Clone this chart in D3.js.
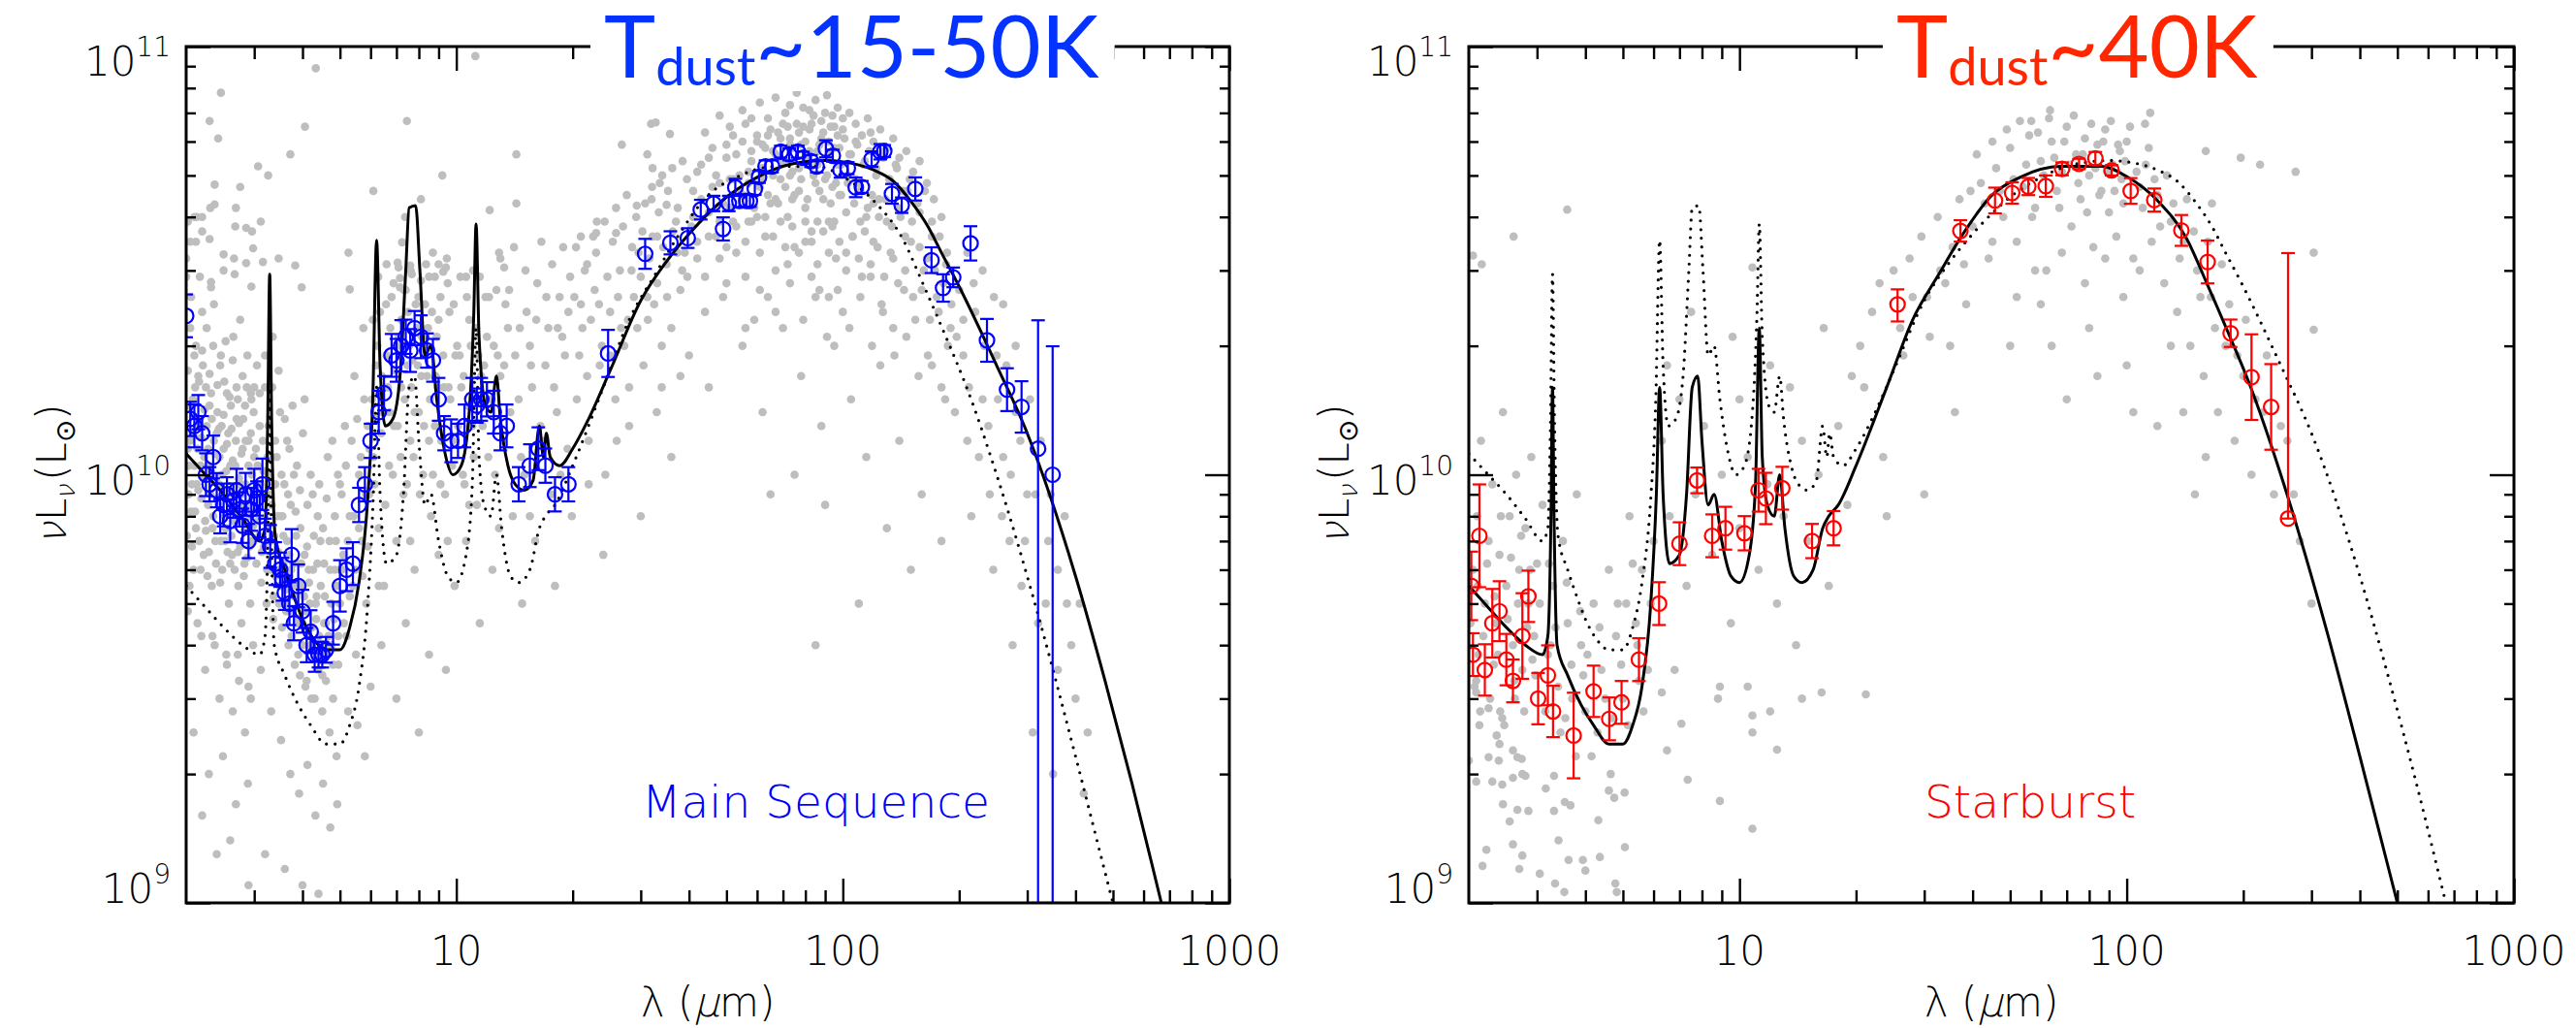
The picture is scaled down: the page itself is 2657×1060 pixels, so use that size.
<!DOCTYPE html>
<html><head><meta charset="utf-8">
<script src="https://cdn.jsdelivr.net/npm/d3@7"></script>
<style>
body{margin:0;background:#fff;}
text{font-family:"DejaVu Sans",sans-serif;font-weight:200;}
</style></head><body>
<script>
// luminosities in units of 1e10 Lsun, wavelengths in micron
var msModel=[[2.0,1.12],[2.2,1.02],[2.5,0.9],[2.8,0.79],[3.1,0.7],[3.2,0.75],[3.25,1.3],[3.29,2.94],[3.33,1.3],[3.4,0.72],[3.6,0.6],[3.8,0.52],[4.0,0.46],[4.3,0.41],[4.6,0.39],[5.0,0.39],[5.3,0.44],[5.6,0.56],[5.9,0.88],[6.08,1.5],[6.22,3.53],[6.35,1.8],[6.55,1.3],[6.85,1.35],[7.15,1.7],[7.4,3.0],[7.55,4.2],[7.85,4.25],[8.05,3.0],[8.3,1.9],[8.6,2.0],[8.9,1.5],[9.3,1.15],[9.8,1.0],[10.3,1.05],[10.8,1.4],[11.1,2.4],[11.25,3.85],[11.45,2.1],[11.9,1.45],[12.3,1.4],[12.7,1.7],[13.0,1.35],[13.6,1.05],[14.2,0.95],[15.0,0.92],[15.8,0.97],[16.4,1.3],[16.8,1.1],[17.1,1.25],[17.5,1.1],[18.5,1.05],[20,1.15],[22,1.35],[25,1.75],[30,2.55],[35,3.15],[40,3.65],[50,4.45],[60,4.95],[70,5.25],[80,5.38],[90,5.42],[100,5.38],[120,5.15],[135,4.85],[150,4.35],[166,3.8],[180,3.3],[200,2.75],[250,1.8],[300,1.25],[400,0.58],[477,0.33],[560,0.19],[667,0.1],[750,0.065]];
var sbModel=[[2.0,0.55],[2.2,0.5],[2.5,0.44],[2.8,0.4],[3.1,0.38],[3.2,0.42],[3.26,0.8],[3.29,1.6],[3.32,0.8],[3.38,0.4],[3.6,0.34],[3.9,0.29],[4.2,0.26],[4.6,0.235],[5.0,0.235],[5.3,0.26],[5.6,0.32],[5.9,0.5],[6.1,0.9],[6.22,1.6],[6.35,0.9],[6.6,0.62],[7.0,0.65],[7.3,0.9],[7.55,1.6],[7.8,1.7],[8.0,1.2],[8.3,0.85],[8.6,0.9],[9.0,0.7],[9.5,0.58],[10.0,0.56],[10.6,0.65],[11.0,0.95],[11.25,2.2],[11.45,1.1],[11.8,0.85],[12.3,0.8],[12.7,1.0],[13.1,0.75],[13.8,0.58],[14.5,0.56],[15.5,0.6],[16.4,0.75],[17.0,0.8],[18,0.85],[20,1.05],[24,1.6],[28,2.3],[32.8,2.95],[37.4,3.6],[44.9,4.5],[53,4.95],[67.6,5.25],[86,5.25],[100,4.97],[120,4.37],[143,3.55],[161,2.8],[186,2.07],[208,1.62],[250,1.0],[329,0.43],[400,0.22],[500,0.1],[560,0.068]];

// stacked photometry: [lambda, L, err down (dex), err up (dex)]
var msPts=[[2.0,2.35,0.05,0.05],[2.05,1.35,0.04,0.04],[2.1,1.3,0.05,0.05],[2.15,1.4,0.04,0.04],[2.2,1.25,0.04,0.04],[2.25,1.0,0.05,0.05],[2.3,0.95,0.04,0.04],[2.35,1.1,0.05,0.05],[2.4,0.92,0.04,0.04],[2.45,0.8,0.04,0.04],[2.5,0.85,0.05,0.05],[2.55,0.9,0.04,0.04],[2.6,0.78,0.05,0.05],[2.65,0.87,0.04,0.04],[2.7,0.92,0.05,0.05],[2.75,0.83,0.04,0.04],[2.8,0.76,0.04,0.04],[2.85,0.9,0.05,0.05],[2.9,0.7,0.04,0.04],[2.95,0.83,0.05,0.05],[3.0,0.92,0.05,0.05],[3.05,0.88,0.04,0.04],[3.1,0.8,0.05,0.05],[3.15,0.95,0.06,0.06],[3.2,0.72,0.04,0.04],[3.3,0.68,0.05,0.05],[3.4,0.62,0.05,0.05],[3.5,0.6,0.04,0.04],[3.55,0.57,0.05,0.05],[3.6,0.53,0.04,0.04],[3.7,0.5,0.05,0.05],[3.75,0.65,0.06,0.06],[3.8,0.45,0.04,0.04],[3.9,0.55,0.05,0.05],[4.0,0.48,0.05,0.05],[4.1,0.4,0.04,0.04],[4.2,0.43,0.05,0.05],[4.3,0.38,0.04,0.04],[4.4,0.38,0.03,0.03],[4.5,0.38,0.03,0.03],[4.6,0.39,0.03,0.03],[4.8,0.45,0.05,0.05],[5.0,0.55,0.06,0.06],[5.2,0.6,0.05,0.05],[5.4,0.62,0.05,0.05],[5.6,0.85,0.04,0.04],[5.8,0.95,0.04,0.04],[6.0,1.2,0.04,0.04],[6.3,1.4,0.05,0.05],[6.5,1.55,0.04,0.04],[6.8,1.9,0.05,0.05],[7.0,1.85,0.05,0.05],[7.2,2.0,0.06,0.06],[7.4,2.1,0.04,0.04],[7.6,1.95,0.05,0.05],[7.8,2.2,0.04,0.04],[8.1,2.1,0.05,0.05],[8.4,1.95,0.04,0.04],[8.7,1.85,0.05,0.05],[9.0,1.5,0.05,0.05],[9.3,1.25,0.04,0.04],[9.7,1.2,0.05,0.05],[10.1,1.2,0.04,0.04],[10.5,1.3,0.05,0.05],[11.0,1.5,0.05,0.05],[11.3,1.45,0.04,0.04],[11.6,1.5,0.05,0.05],[12.0,1.5,0.04,0.04],[12.5,1.4,0.05,0.05],[13.0,1.25,0.04,0.04],[13.5,1.3,0.05,0.05],[14.5,0.95,0.04,0.04],[15.5,1.05,0.05,0.05],[16.3,1.15,0.05,0.05],[17,1.05,0.04,0.04],[18,0.9,0.04,0.04],[19.5,0.95,0.04,0.04],
[24.7,1.92,0.055,0.055],[30.8,3.28,0.035,0.035],[35.8,3.48,0.027,0.027],[39.7,3.57,0.023,0.023],[42.9,4.16,0.023,0.023],[46.3,4.3,0.018,0.018],[49.0,3.75,0.027,0.027],[50.7,4.3,0.018,0.018],[52.7,4.69,0.02,0.02],[54.0,4.36,0.014,0.014],[56.3,4.36,0.014,0.014],[57.5,4.36,0.014,0.014],[59.2,4.65,0.014,0.014],[60.7,4.96,0.014,0.014],[63.1,5.25,0.014,0.014],[65.6,5.25,0.014,0.014],[69.1,5.68,0.014,0.014],[72.7,5.6,0.014,0.014],[76.5,5.68,0.014,0.014],[78.9,5.5,0.014,0.014],[82.7,5.4,0.014,0.014],[85.6,5.25,0.014,0.014],[90.4,5.77,0.02,0.02],[94.2,5.56,0.014,0.014],[98.6,5.15,0.018,0.018],[103,5.2,0.014,0.014],[108,4.69,0.023,0.023],[112,4.7,0.014,0.014],[118.7,5.46,0.018,0.018],[125,5.68,0.018,0.018],[128,5.7,0.014,0.014],[134,4.53,0.023,0.023],[142,4.26,0.018,0.018],[154,4.65,0.027,0.027],[169.6,3.17,0.03,0.03],[181.7,2.73,0.032,0.032],[193,2.89,0.023,0.023],[214,3.47,0.04,0.04],[236,2.06,0.05,0.05],[266,1.58,0.05,0.05],[290,1.44,0.06,0.06],[320,1.15,2,0.3],[349,1.0,2,0.3]];
var sbPts=[[2.03,0.55,0.08,0.08],[2.05,0.38,0.05,0.05],[2.13,0.72,0.12,0.12],[2.2,0.35,0.06,0.06],[2.3,0.45,0.08,0.08],[2.4,0.48,0.07,0.07],[2.5,0.37,0.06,0.06],[2.6,0.33,0.05,0.05],[2.75,0.42,0.1,0.1],[2.85,0.52,0.06,0.06],[3.02,0.30,0.06,0.06],[3.2,0.34,0.07,0.07],[3.3,0.28,0.06,0.06],[3.73,0.246,0.1,0.1],[4.2,0.312,0.06,0.06],[4.61,0.269,0.05,0.05],[4.96,0.294,0.05,0.05],[5.5,0.37,0.05,0.05],[6.2,0.5,0.05,0.05],[7.0,0.69,0.05,0.05],[7.77,0.97,0.03,0.03],[8.5,0.72,0.05,0.05],[9.2,0.75,0.05,0.05],[10.3,0.73,0.04,0.04],[11.2,0.92,0.05,0.05],[11.7,0.88,0.06,0.06],[12.9,0.93,0.05,0.05],[15.4,0.7,0.04,0.04],[17.5,0.75,0.04,0.04],
[25.6,2.5,0.04,0.035],[37.2,3.71,0.025,0.025],[45.7,4.37,0.03,0.03],[50.6,4.55,0.025,0.025],[55.7,4.71,0.02,0.02],[61.8,4.72,0.025,0.025],[68.1,5.18,0.015,0.015],[75.3,5.32,0.012,0.012],[83,5.48,0.015,0.015],[91.4,5.14,0.012,0.012],[102.4,4.6,0.03,0.03],[117.8,4.38,0.027,0.027],[138.4,3.72,0.036,0.036],[161.8,3.14,0.05,0.05],[185.5,2.14,0.032,0.032],[210,1.69,0.1,0.1],[236,1.44,0.1,0.1],[261,0.79,0,0.62]];

// individual galaxies (grey)
var msGray=[[4.33,8.9],[2.46,7.8],[2.3,6.7],[2.42,6.1],[4.06,6.5],[7.45,6.7],[3.72,5.6],[3.07,5.25],[3.26,5.0],[9.2,5.0],[2.37,4.76],[2.76,4.7],[6.1,4.6],[11.2,9.5],[14.3,5.6],[14.3,4.3],[12.2,4.15],[8.1,4.4],[26.8,5.9],[31.2,5.6],[31.9,6.6],[32.8,6.65],[35.7,6.25],[32.2,5.2],[33.6,4.8],[29.3,4.25],[32,4.4],[35,4.27],[23.1,3.9],[21,3.6],[23,3.67],[25.9,3.67],[21.8,3.1],
[2.13,4.0],[2.1,4.0],[2.2,4.0],[2.02,3.9],[2.2,3.7],[2.05,3.5],[2.12,3.5],[2.3,3.55],[2.31,4.2],[2.37,4.28],[2.69,4.2],[3.12,3.9],[2.86,3.77],[2.96,3.7],[2.68,3.8],[2.98,3.38],[2.5,3.27],[2.66,3.2],[2.86,3.12],[3.16,3.14],[3.47,3.2],[3.83,3.08],[2.5,3.0],[2.67,2.94],[2.0,3.2],[2.0,2.9],[2.17,2.9],[2.32,2.82],[2.32,2.74],[2.95,2.75],[3.98,2.74],[5.26,3.3],[5.3,2.71],[6.6,3.1],[7.05,3.13],[7.09,3.05],[7.15,2.88],[7.15,2.74],[7.24,3.49],[7.37,4.0],[7.4,2.7],[7.6,3.08],[7.67,2.94],[8.1,2.84],[8.5,2.9],[8.7,3.3],[9.0,3.1],[9.25,2.98],[9.4,3.05],[9.5,2.8],[10.6,2.9],[13,3.2],[13.3,3.05],[12.7,2.7],
[2.05,2.2],[2.1,1.9],[2.15,1.7],[2.2,2.4],[2.25,1.6],[2.3,1.45],[2.35,2.0],[2.4,1.25],[2.45,1.8],[2.5,1.15],[2.55,1.55],[2.6,1.05],[2.65,2.1],[2.7,1.35],[2.75,0.95],[2.8,1.7],[2.85,1.2],[2.9,0.85],[2.95,1.5],[3.0,1.1],[2.02,1.15],[2.07,0.95],[2.12,0.75],[2.18,1.05],[2.22,0.65],[2.28,0.85],[2.33,0.55],[2.38,0.7],[2.43,0.95],[2.48,0.6],[2.53,0.75],[2.58,0.5],[2.63,0.65],[2.68,0.85],[2.73,0.55],[2.78,0.45],[2.83,0.62],[2.88,0.75],[2.93,0.5],[2.98,0.4],[2.04,0.55],[2.14,0.45],[2.24,0.35],[2.34,0.42],[2.44,0.3],[2.54,0.38],[2.64,0.28],[2.74,0.33],[2.84,0.25],[2.94,0.3],[2.09,0.25],[2.29,0.2],[2.49,0.22],[2.69,0.17],[2.89,0.19],
[3.05,1.8],[3.1,1.3],[3.15,0.9],[3.2,1.6],[3.25,1.1],[3.3,0.7],[3.35,2.1],[3.4,0.95],[3.45,0.6],[3.5,1.4],[3.55,0.8],[3.6,0.5],[3.65,1.2],[3.7,0.65],[3.75,0.42],[3.8,1.0],[3.85,0.55],[3.9,0.38],[3.95,0.75],[4.0,0.45],[4.05,1.5],[4.1,0.33],[4.15,0.6],[4.2,0.4],[4.25,0.9],[4.3,0.3],[4.35,0.52],[4.4,0.35],[4.45,0.7],[4.5,0.28],[4.55,0.45],[4.6,0.33],[4.65,1.1],[4.7,0.25],[4.75,0.4],[4.8,0.3],[4.85,0.6],[4.9,0.22],[4.95,0.36],[5.0,0.5],[3.12,0.35],[3.32,0.28],[3.52,0.24],[3.72,0.2],[3.92,0.18],[4.12,0.21],[4.32,0.16],[4.52,0.19],[4.72,0.15],[4.92,0.17],[3.6,0.12],[4.0,0.11],[4.4,0.105],[3.2,0.13],[2.6,0.14],[2.4,0.13],[2.2,0.16],[2.9,0.11],
[5.05,0.9],[5.1,0.65],[5.15,1.3],[5.2,0.42],[5.3,0.8],[5.4,0.55],[5.45,1.7],[5.5,0.38],[5.6,1.0],[5.7,0.7],[5.75,2.2],[5.85,0.5],[5.9,1.3],[5.95,0.9],[6.0,0.32],[5.25,0.28],[5.55,0.26],[5.8,0.22],
[6.1,1.1],[6.2,1.8],[6.3,0.75],[6.35,2.4],[6.45,1.4],[6.5,0.55],[6.6,1.9],[6.7,1.05],[6.8,2.6],[6.9,1.3],[7.0,0.7],[7.1,2.1],[7.2,1.6],[7.3,0.9],[7.5,2.4],[7.6,1.2],[7.7,1.85],[7.8,0.6],[7.9,2.2],[8.0,1.4],[8.2,1.0],[8.3,2.5],[8.4,1.7],[8.6,0.8],[8.8,1.3],[8.9,2.1],[9.1,0.95],[9.3,1.6],[9.5,0.7],[9.6,2.4],[9.8,1.2],[9.9,0.55],[6.4,0.4],[7.4,0.45],[8.5,0.38],[9.4,0.35],[7.0,0.3],[8.0,0.25],
[10.2,1.9],[10.4,1.0],[10.6,0.7],[10.8,2.3],[11.0,1.3],[11.3,0.85],[11.6,1.7],[11.9,2.6],[12.1,1.1],[12.4,0.6],[12.8,1.9],[13.2,1.2],[13.6,2.2],[14.0,0.8],[14.5,1.5],[15.0,1.0],[15.5,2.0],[16.0,0.7],[16.5,1.3],[17.0,1.8],[17.6,0.9],[18.2,1.4],[18.8,2.1],[19.4,1.15],[19.9,0.8],[11.5,0.45],[14.8,0.5],[18,0.55],
[20.5,1.5],[21.2,2.2],[22,1.2],[22.8,2.7],[23.5,1.8],[24.3,1.0],[25,2.4],[25.8,1.5],[26.5,3.0],[27.2,2.0],[28,1.3],[28.8,2.6],[29.6,3.3],[30.5,1.8],[31.3,2.3],[32.2,3.6],[33.1,2.8],[34,1.6],[35,3.1],[36,2.2],[37,3.9],[38,2.7],[39,3.3],[40,1.9],[24,0.65],[30,0.8],[36,1.1],
[41,4.6],[42,3.5],[43,5.3],[44,2.9],[45,4.1],[46,5.8],[47,3.6],[48,4.8],[49,2.6],[50,5.5],[51,4.2],[52,6.2],[53,3.3],[54,5.0],[55,4.5],[56,6.6],[57,3.9],[58,5.4],[59,2.3],[60,6.0],[61,4.7],[62,5.2],[63,3.6],[64,6.8],[65,4.3],[66,5.7],[67,3.0],[68,6.3],[69,4.9],[70,5.4],[71,7.0],[72,4.0],[73,6.1],[74,5.1],[75,3.4],[76,6.6],[77,4.6],[78,5.9],[79,7.2],[80,4.2],[81,5.5],[82,6.4],[83,3.7],[84,6.9],[85,4.8],[86,5.3],[87,2.7],[88,6.1],[89,4.4],[90,7.0],[91,5.0],[92,3.9],[93,6.5],[94,4.7],[95,5.8],[96,3.2],[97,6.2],[98,4.5],[99,5.3],[100,6.8],[102,4.1],[104,5.6],[106,3.6],[108,6.0],[110,4.8],[112,2.9],[114,5.4],[116,4.2],[118,6.3],[120,3.5],[122,5.0],[124,4.4],[126,2.5],[128,5.7],[130,3.9],[132,4.9],[135,3.2],[138,5.2],[141,4.0],[144,2.7],[147,4.6],[150,3.5],[154,2.3],[158,4.1],[162,3.0],[166,1.9],[170,3.6],[175,2.6],[180,1.6],[185,3.1],[190,2.2],[195,1.4],[200,2.7],
[45,1.6],[55,2.0],[62,1.4],[70,2.2],[78,1.7],[88,1.3],[95,2.0],[105,1.5],[115,1.1],[125,1.8],[140,1.2],[160,0.9],[130,0.75],[150,0.6],[110,0.5],[90,0.85],[75,1.0],[65,0.9],[180,0.7],[85,0.4],
[52,4.9],[57,5.1],[63,5.8],[68,5.5],[73,5.9],[77,5.2],[82,5.7],[87,5.9],[92,5.6],[97,5.3],[103,5.0],[108,4.9],[52,3.9],[60,4.0],[67,4.4],[74,4.4],[80,3.5],[86,3.9],[94,3.8],[102,3.3],[111,3.9],[120,4.3],[48,3.2],[56,2.9],[64,2.6],[72,3.1],[83,2.9],[92,2.6],[100,2.4],[118,2.9],[135,2.2],
[205,1.9],[210,1.2],[220,2.4],[230,1.5],[240,0.9],[250,1.9],[260,1.1],[270,0.7],[280,1.4],[290,0.55],[300,0.9],[320,0.45],[340,0.7],[360,0.35],[380,0.5],[215,0.8],[245,0.6],[275,0.4],[310,0.25],[350,0.2],[400,0.3],[420,0.18],[230,3.0],[260,2.5],[210,3.3],
[2.01,0.72],[2.03,1.05],[2.04,1.45],[2.06,0.82],[2.08,1.25],[2.09,0.6],[2.11,1.6],[2.13,0.95],[2.14,1.15],[2.16,0.7],[2.17,1.35],[2.19,0.88],[2.21,1.8],[2.23,1.1],[2.24,0.78],[2.26,1.3],[2.27,0.58],[2.29,1.05],[2.31,0.9],[2.32,1.55],[2.34,0.75],[2.36,1.2],[2.37,0.98],[2.39,0.62],[2.41,1.4],[2.42,0.85],[2.44,1.1],[2.46,0.7],[2.47,1.3],[2.49,0.92],[2.51,1.65],[2.52,0.8],[2.54,1.02],[2.56,0.66],[2.57,1.25],[2.59,0.88],[2.61,1.45],[2.62,0.72],[2.64,1.08],[2.66,0.9],[2.67,0.6],[2.69,1.2],[2.71,0.8],[2.72,1.5],[2.74,0.98],[2.76,0.68],[2.78,1.12],[2.79,0.85],[2.81,1.35],[2.83,0.74],[2.85,0.95],[2.87,1.6],[2.88,0.64],[2.9,1.05],[2.92,0.8],[2.94,1.25],[2.96,0.7],[2.97,0.92],[2.99,1.4],[2.02,0.48],[2.19,0.42],[2.37,0.4],[2.55,0.36],[2.72,0.38],[2.9,0.32],
[3.02,0.82],[3.04,0.62],[3.06,1.05],[3.09,0.72],[3.11,0.95],[3.13,0.56],[3.16,1.2],[3.18,0.68],[3.21,0.88],[3.23,0.5],[3.26,0.76],[3.28,1.0],[3.31,0.6],[3.33,0.85],[3.36,0.46],[3.38,0.72],[3.41,0.58],[3.43,1.1],[3.46,0.66],[3.48,0.5],[3.51,0.8],[3.54,0.44],[3.57,0.62],[3.59,0.95],[3.62,0.54],[3.65,0.7],[3.68,0.4],[3.71,0.58],[3.73,0.85],[3.76,0.48],[3.79,0.62],[3.82,0.36],[3.85,0.72],[3.88,0.45],[3.91,0.56],[3.94,0.34],[3.97,0.62],[4.0,0.4],[4.04,0.52],[4.07,0.32],[4.11,0.68],[4.14,0.42],[4.18,0.5],[4.22,0.3],[4.26,0.6],[4.3,0.38],[4.34,0.46],[4.38,0.8],[4.42,0.42],[4.46,0.55],[4.5,0.34],[4.55,0.62],[4.6,0.45],[4.65,0.38],[4.7,0.7],[4.75,0.5],[4.8,0.36],[4.85,0.8],[4.9,0.55],[4.95,0.42],[5.0,0.95],[5.06,0.6],[5.12,0.45],[5.18,1.05],[5.24,0.7],[5.3,0.52],[5.36,1.2],[5.42,0.8],[5.48,0.6],[5.54,1.35],[5.6,0.75],[5.66,1.1],[5.72,0.58],[5.78,1.5],[5.84,0.9],[5.9,0.68],[5.96,1.15],
[6.05,1.5],[6.15,0.95],[6.25,2.0],[6.4,1.25],[6.55,0.85],[6.65,1.6],[6.75,2.2],[6.85,1.0],[6.95,1.75],[7.05,1.3],[7.2,2.3],[7.35,1.5],[7.45,0.95],[7.55,2.0],[7.65,1.6],[7.75,1.1],[7.85,2.5],[7.95,1.8],[8.05,0.9],[8.15,2.1],[8.25,1.3],[8.45,2.2],[8.55,1.5],[8.7,1.0],[8.85,1.7],[9.0,2.3],[9.15,1.2],[9.35,0.9],[9.55,1.6],[9.75,1.05],[9.95,1.9],[10.1,1.3],[10.3,1.6],[10.5,0.95],[10.7,1.45],[10.9,2.0],[11.1,1.1],[11.4,1.9],[11.7,1.3],[12.0,2.1],[12.3,1.5],[12.6,1.0],[13.0,1.7],[13.4,2.5],[13.8,1.4],[14.2,1.9],[14.7,1.1],[15.2,2.4],[15.7,1.6],[16.2,2.8],[16.8,1.2],[17.3,2.2],[17.9,1.6],[18.5,2.6],[19.1,1.9],[19.7,2.9],
[20.2,2.6],[20.8,1.9],[21.5,3.0],[22.3,2.3],[23,3.3],[23.8,2.0],[24.6,2.9],[25.4,3.5],[26.2,2.6],[27,3.8],[27.8,2.3],[28.5,3.4],[29.2,4.0],[30,2.9],[30.8,4.3],[31.6,3.2],[32.5,2.5],[33.4,4.1],[34.3,3.4],[35.3,4.6],[36.3,3.7],[37.4,4.2],[38.4,3.0],[39.5,4.9],[40.6,3.8],[26,1.2],[33,1.4],[38,1.7],
[44,6.3],[48,6.9],[51,6.5],[55,7.1],[58,6.8],[61,7.4],[64,6.2],[67,7.6],[70,6.6],[73,7.3],[76,7.8],[79,6.5],[82,7.1],[85,7.5],[88,6.7],[91,7.7],[94,6.9],[97,7.2],[100,6.4],[104,7.0],[108,6.6],[112,6.2],[116,6.8],[120,6.0],[125,6.4],[130,5.8],[135,6.1],[140,5.5],[146,5.7],[152,5.1],[158,5.4],[165,4.8],[172,4.4],[180,4.0],
[42,5.1],[45,5.5],[47,5.0],[50,5.9],[53,5.6],[55,6.0],[58,5.7],[60,6.2],[62,5.9],[65,6.4],[67,5.6],[69,6.1],[72,6.5],[74,5.8],[77,6.3],[80,6.0],[83,6.6],[86,5.7],[89,6.3],[92,6.0],[95,6.5],[98,5.8],[101,6.1],[105,5.6],[109,5.9],[113,5.3],[117,5.7],[122,5.2],[127,5.5],[132,4.9],[137,5.3],[143,4.6],[149,4.9],[156,4.3],[163,4.6],[170,3.9],[178,3.6],[186,3.3],
[41,4.0],[43,4.4],[46,4.7],[49,4.3],[51,4.9],[54,4.6],[57,4.8],[59,4.2],[62,4.9],[64,4.5],[66,5.0],[68,4.3],[71,4.7],[73,5.0],[75,4.5],[78,4.9],[81,4.4],[84,5.0],[87,4.6],[90,4.9],[93,4.3],[96,4.8],[99,4.5],[103,4.8],[107,4.3],[111,4.6],[115,4.0],[119,4.5],[124,4.0],[129,4.4],[134,3.8],[139,4.2],[145,3.6],[151,3.9],[158,3.4],[165,3.2],[173,3.0],[182,2.8],[191,2.5],
[42,3.2],[45,3.6],[48,3.9],[50,3.4],[53,3.8],[56,3.5],[58,3.9],[61,3.3],[63,4.0],[66,3.6],[69,3.9],[71,3.4],[74,3.8],[77,3.3],[80,3.9],[83,3.5],[86,3.1],[89,3.7],[92,3.3],[95,3.9],[98,3.5],[102,3.0],[106,3.6],[110,3.2],[114,3.7],[118,3.1],[123,3.4],[128,2.9],[133,3.3],[139,2.8],[145,3.0],[152,2.6],[160,2.7],[168,2.3],[177,2.4],[187,2.0],[197,2.1],
[44,2.4],[50,2.8],[56,2.2],[61,2.7],[67,2.4],[73,2.8],[79,2.3],[85,2.6],[91,2.1],[97,2.7],[104,2.2],[111,2.6],[119,2.0],[127,2.4],[136,1.9],[146,2.1],[157,1.7],[170,1.8],[184,1.5],
[205,2.3],[212,1.6],[218,2.8],[225,1.1],[232,2.0],[238,1.3],[246,2.6],[252,1.5],[258,0.8],[265,1.8],[272,1.0],[280,2.0],[288,1.2],[296,0.7],[305,1.5],[315,0.9],[325,1.2],[335,0.5],[345,0.9],[360,0.6],[375,0.8],[390,0.4],[410,0.5],[430,0.25],
[2.02,1.75],[2.03,0.9],[2.05,1.2],[2.06,2.6],[2.07,0.68],[2.08,1.5],[2.1,1.05],[2.11,0.82],[2.12,2.0],[2.13,1.3],[2.15,0.92],[2.16,1.65],[2.18,0.6],[2.19,1.22],[2.2,1.95],[2.22,0.98],[2.23,1.42],[2.25,0.74],[2.26,2.2],[2.28,1.15],[2.29,0.66],[2.3,1.72],[2.32,1.02],[2.33,1.35],[2.35,0.8],[2.36,2.5],[2.38,1.12],[2.4,0.88],[2.41,1.62],[2.43,1.28],[2.45,0.56],[2.46,1.9],[2.48,1.0],[2.5,1.38],[2.52,0.7],[2.53,2.05],[2.55,1.18],[2.57,0.92],[2.59,1.52],[2.6,0.62],[2.62,1.28],[2.64,1.85],[2.66,0.78],[2.68,1.05],[2.7,1.6],[2.72,0.66],[2.74,1.32],[2.76,2.3],[2.78,0.9],[2.8,1.15],[2.82,0.58],[2.84,1.45],[2.86,0.82],[2.88,1.9],[2.9,1.2],[2.92,0.68],[2.94,1.55],[2.96,1.0],[2.98,0.76],[3.0,1.6],
[3.03,1.15],[3.07,0.78],[3.1,1.55],[3.14,0.66],[3.17,1.02],[3.2,1.9],[3.24,0.6],[3.27,1.3],[3.3,0.9],[3.34,1.6],[3.37,0.52],[3.4,1.2],[3.44,0.8],[3.47,1.75],[3.5,0.55],[3.53,1.0],[3.57,0.72],[3.6,1.35],[3.63,0.48],[3.67,0.9],[3.7,1.15],[3.74,0.6],[3.77,1.45],[3.8,0.52],[3.84,0.82],[3.87,1.05],[3.9,0.46],[3.94,0.92],[3.97,0.55],[4.01,1.25],[4.05,0.65],[4.08,0.48],[4.12,0.85],[4.16,0.56],[4.2,1.0],[4.24,0.44],[4.28,0.72],[4.33,0.5],[4.37,0.62],[4.42,0.95],[4.47,0.4],[4.52,0.75],[4.57,0.52],[4.62,0.88],[4.67,0.42],[4.72,0.6],[4.78,1.2],[4.83,0.46],[4.88,0.7],[4.94,1.0],[4.99,0.6],
[6.08,2.3],[6.18,1.35],[6.28,2.9],[6.42,1.7],[6.58,2.5],[6.72,1.4],[6.88,2.8],[7.02,2.0],[7.18,1.1],[7.32,2.7],[7.48,1.8],[7.62,3.0],[7.8,1.4],[7.98,2.6],[8.12,1.7],[8.35,3.1],[8.5,1.2],[8.65,2.4],[8.8,2.9],[8.95,1.6],[9.1,2.6],[9.25,1.9],[9.45,3.2],[9.65,1.5],[9.85,2.5],[10.05,2.0],[10.25,2.9],[10.45,1.7],[10.65,2.6],[10.85,1.3],[11.05,3.0],[11.25,2.2],[11.5,2.9],[11.8,1.8],[12.15,2.6],[12.5,2.0],[12.9,3.3],[13.3,1.8],[13.7,2.7],[14.1,3.4],[14.6,2.2],[15.1,3.0],[15.6,1.8],[16.1,2.3],[16.6,3.5],[17.1,2.6],[17.7,3.1],[18.3,2.2],[18.9,3.4],[19.5,2.4],[6.3,0.55],[7.6,0.7],[9.0,0.65],[10.8,0.85],[12.9,0.75],[15.5,0.8],[18.6,1.0],
[20.4,3.4],[21,2.5],[21.8,1.7],[22.6,3.6],[23.4,2.5],[24.2,3.9],[25,1.9],[25.9,4.2],[26.7,2.2],[27.6,4.5],[28.4,3.0],[29.4,2.2],[30.3,3.7],[31.2,2.6],[32.1,4.7],[33.1,3.6],[34.1,5.0],[35.1,2.6],[36.2,5.2],[37.3,3.3],[38.5,5.4],[39.6,2.9],[22,0.95],[28,1.6],[34,2.0]];
var sbGray=[[2.09,0.33],[2.09,0.31],[2.25,0.285],[2.41,0.28],[2.44,0.27],[2.13,0.26],[2.36,0.246],[2.4,0.235],[2.6,0.227],[2.25,0.219],[2.39,0.215],[2.67,0.219],[2.74,0.217],[2.0,0.215],[2.09,0.192],[2.3,0.192],[2.44,0.189],[2.6,0.196],[2.75,0.2],[2.8,0.198],[3.16,0.185],[3.32,0.198],[2.45,0.17],[2.67,0.165],[2.85,0.164],[3.32,0.164],[3.54,0.172],[3.66,0.169],[4.32,0.156],[2.55,0.155],[2.6,0.137],[2.75,0.129],[2.22,0.133],[2.17,0.122],[2.7,0.12],[3.05,0.117],[3.34,0.111],[3.53,0.106],[3.62,0.126],[3.94,0.126],[4.0,0.119],[4.36,0.128],[4.78,0.111],[5.06,0.135],[4.82,0.106],[3.41,0.14],[4.6,0.183],[5.05,0.181],[4.75,0.176],[6.3,0.31],[7.08,0.262],[6.5,0.227],[7.35,0.194],[8.9,0.173],[10.8,0.149],[10.8,0.274],[10.8,0.25],[12.5,0.228],[14.5,0.3],[16.3,0.31],[21.2,0.307],[8.9,0.32],[10.5,0.32],
[3.59,4.16],[2.61,3.6],[2.05,3.25],[2.16,3.1],[10.8,3.05],
[2.05,0.6],[2.1,0.8],[2.15,1.2],[2.2,0.5],[2.25,0.7],[2.3,0.95],[2.35,0.45],[2.4,0.65],[2.45,1.4],[2.5,0.55],[2.55,0.8],[2.6,0.4],[2.65,1.0],[2.7,0.6],[2.75,0.35],[2.8,0.75],[2.85,0.5],[2.9,1.1],[2.95,0.42],[3.0,0.62],[3.1,0.85],[3.2,0.38],[3.3,0.55],[3.4,0.32],[3.5,0.7],[3.6,0.45],[3.7,0.3],[3.8,0.9],[3.9,0.4],[4.0,0.28],[4.2,0.5],[4.4,0.35],[4.6,0.6],[4.8,0.42],[5.0,0.3],[5.2,0.8],[5.4,0.45],[5.6,0.6],[5.8,0.35],[6.0,0.7],[2.12,0.38],[2.32,0.36],[2.62,0.33],[2.92,0.37],[3.25,0.4],[3.55,0.27],[3.95,0.34],[4.3,0.25],[4.7,0.27],[5.1,0.5],[5.5,0.33],
[6.3,1.2],[6.6,0.8],[7.0,1.5],[7.3,0.55],[7.7,0.9],[8.1,1.3],[8.5,0.65],[9.0,1.0],[9.5,0.45],[10,0.75],[10.5,1.1],[11.2,0.6],[11.8,0.95],[12.5,0.5],[13,0.8],[14,0.4],[15,0.7],[16,1.0],[17,0.55],[18,1.3],[19,0.85],[6.8,0.35],[8.8,0.3],[12,0.28],[9.6,2.1],[13.5,1.6],
[21,1.6],[22,2.4],[23.5,1.1],[25,3.0],[26.5,1.9],[28,2.6],[29.5,3.6],[31,2.1],[32.5,4.0],[34,2.8],[35.5,3.4],[37,4.4],[38.5,2.5],[40,3.8],[24,0.8],[30,0.9],[36,1.4],
[42,4.8],[44,3.2],[46,5.2],[48,4.0],[50,5.8],[52,3.5],[54,4.7],[56,6.2],[58,4.2],[60,5.4],[62,3.0],[64,6.0],[66,4.6],[68,5.1],[70,6.5],[72,3.8],[74,5.6],[76,4.4],[78,6.1],[80,5.0],[82,3.4],[84,5.9],[86,4.6],[88,6.4],[90,4.1],[92,5.3],[94,3.6],[96,5.7],[98,4.3],[100,6.0],[104,3.2],[108,4.7],[112,5.3],[116,3.5],[120,4.5],[125,2.8],[130,3.9],[135,2.4],[140,3.5],[146,2.0],[152,3.0],[158,1.7],[165,2.6],[172,1.4],[180,2.0],[190,1.2],[200,1.7],[210,1.0],[225,1.4],[240,0.9],[260,1.2],[280,0.7],[300,0.5],[60,2.5],[80,2.2],[100,1.8],[50,2.0],[70,1.5],[120,1.3],[150,0.9],
[273,5.1],[304,3.3],[304,2.18],[221,5.3],[197,5.5],[166,4.3],[160,5.7],[115,7.0],[111.5,6.6],[63.4,7.1],[56.7,6.7],
[2.02,0.45],[2.07,0.32],[2.11,0.55],[2.14,0.28],[2.18,0.42],[2.23,0.62],[2.27,0.3],[2.33,0.52],[2.38,0.38],[2.42,0.8],[2.47,0.26],[2.52,0.46],[2.57,0.64],[2.63,0.3],[2.68,0.5],[2.73,0.72],[2.78,0.28],[2.83,0.44],[2.88,0.6],[2.97,0.34],[3.05,0.5],[3.15,0.28],[3.22,0.62],[3.35,0.44],[3.45,0.25],[3.58,0.56],[3.68,0.36],[3.78,0.22],[3.88,0.48],[4.05,0.38],[4.15,0.22],[4.35,0.44],[4.5,0.3],[4.65,0.2],[4.85,0.5],[4.95,0.36],[5.15,0.26],[5.3,0.62],[5.45,0.4],[5.65,0.28],[5.9,0.5],
[6.5,1.8],[7.5,2.4],[10,1.5],[12,1.8],[14.5,1.2],[16.5,2.2],[19.5,1.7],
[20.5,2.0],[23,2.8],[26,2.2],[27.5,3.2],[30.5,2.6],[33,3.0],[35,2.0],[38,3.1],[39.5,4.6],
[41,5.6],[43,4.3],[45,6.0],[47,4.6],[49,6.4],[51,4.9],[53,6.7],[55,5.3],[57,4.0],[59,6.3],[61,5.0],[63,6.8],[65,5.5],[67,4.2],[69,6.0],[71,5.3],[73,6.9],[75,4.8],[77,5.6],[79,4.1],[81,6.6],[83,5.2],[85,4.5],[87,6.0],[89,5.1],[91,6.7],[93,4.6],[95,5.9],[97,4.9],[99,5.4],[102,6.5],[106,5.1],[110,4.2],[114,5.8],[118,4.9],[122,3.8],[127,5.0],[132,4.3],[137,3.2],[143,4.4],[149,3.7],[155,2.6],[162,3.5],[169,2.2],[176,3.1],[184,2.5],[193,1.9],[203,2.3],[215,1.5],[230,1.9],[250,1.3],[270,0.9],[58,3.0],[68,3.3],[78,2.8],[88,3.2],[98,2.6],[108,3.0],[130,2.0],[45,3.5],[52,2.6],[64,2.0],[84,1.7],[104,1.4],[140,1.4],[160,1.1]];

var xMajor=[10,100,1000];
var xMinor=[3,4,5,6,7,8,9,20,30,40,50,60,70,80,90,200,300,400,500,600,700,800,900];
var yMajor=[1e9,1e10,1e11];
var yMinor=[2e9,3e9,4e9,5e9,6e9,7e9,8e9,9e9,2e10,3e10,4e10,5e10,6e10,7e10,8e10,9e10];
var xTickLabels=['10','100','1000'];
var yTickExp=['9','10','11'];

var W=2657,H=1060,yTop=48,yBot=931;
var panels=[
 {left:192,right:1268,solid:msModel,dotted:sbModel,pts:msPts,gray:msGray,color:'#0000ff',tcolor:'#0433ff',tsuf:'~15-50K',tx:623,name:'Main Sequence',nx:662},
 {left:1515,right:2593,solid:sbModel,dotted:msModel,pts:sbPts,gray:sbGray,color:'#ff0000',tcolor:'#ff2600',tsuf:'~40K',tx:1956,name:'Starburst',nx:1985}
];

var svg=d3.select('body').append('svg').attr('width',W).attr('height',H);
var defs=svg.append('defs');

// run of text pieces placed one after another; italic pieces are slanted by hand
function richText(g,parts){
  var pos=0;
  parts.forEach(function(pt){
    var t=g.append('text').attr('y',pt.dy||0).style('font-size',pt.size+'px').text(pt.s);
    var w=t.node().getComputedTextLength();
    t.attr('transform','translate('+pos+',0)'+(pt.it?' skewX(-14)':''));
    pos+=w+(pt.gap||0);
  });
  return pos;
}

panels.forEach(function(p,i){
  var x=d3.scaleLog().domain([2,1000]).range([p.left,p.right]);
  var y=d3.scaleLog().domain([1e9,1e11]).range([yBot,yTop]);
  defs.append('clipPath').attr('id','clip'+i).append('rect')
    .attr('x',p.left).attr('y',yTop).attr('width',p.right-p.left).attr('height',yBot-yTop);
  var plot=svg.append('g').attr('clip-path','url(#clip'+i+')');

  plot.selectAll('.gray').data(p.gray).enter().append('circle')
    .attr('cx',function(d){return x(d[0]);}).attr('cy',function(d){return y(d[1]*1e10);})
    .attr('r',4.3).style('fill','#bebebe');

  var line=d3.line().x(function(d){return x(d[0]);}).y(function(d){return y(d[1]*1e10);}).curve(d3.curveMonotoneX);
  plot.append('path').datum(p.dotted).attr('d',line).style('fill','none').style('stroke','#000')
    .style('stroke-width',3.2).style('stroke-dasharray','0,9').style('stroke-linecap','round');
  plot.append('path').datum(p.solid).attr('d',line).style('fill','none').style('stroke','#000').style('stroke-width',3);

  var pg=plot.selectAll('.pt').data(p.pts).enter().append('g')
    .style('stroke',p.color).style('stroke-width',2.2).style('fill','none');
  function lo(d){return Math.max(1e9,d[1]*1e10/Math.pow(10,d[2]));}
  function hi(d){return d[1]*1e10*Math.pow(10,d[3]);}
  pg.append('line').attr('x1',function(d){return x(d[0]);}).attr('x2',function(d){return x(d[0]);})
    .attr('y1',function(d){return y(lo(d));}).attr('y2',function(d){return y(hi(d));});
  pg.append('line').attr('x1',function(d){return x(d[0])-7;}).attr('x2',function(d){return x(d[0])+7;})
    .attr('y1',function(d){return y(lo(d));}).attr('y2',function(d){return y(lo(d));});
  pg.append('line').attr('x1',function(d){return x(d[0])-7;}).attr('x2',function(d){return x(d[0])+7;})
    .attr('y1',function(d){return y(hi(d));}).attr('y2',function(d){return y(hi(d));});
  pg.append('circle').attr('cx',function(d){return x(d[0]);}).attr('cy',function(d){return y(d[1]*1e10);}).attr('r',7.5);

  // axes: ticks on all four sides pointing inward
  function clean(g){g.select('.domain').remove();g.selectAll('line').style('stroke','#000').style('stroke-width',2.4);}
  svg.append('g').attr('transform','translate(0,'+yBot+')').call(d3.axisBottom(x).tickValues(xMajor).tickSize(-25).tickFormat('')).call(clean);
  svg.append('g').attr('transform','translate(0,'+yBot+')').call(d3.axisBottom(x).tickValues(xMinor).tickSize(-13).tickFormat('')).call(clean);
  svg.append('g').attr('transform','translate(0,'+yTop+')').call(d3.axisTop(x).tickValues(xMajor).tickSize(-25).tickFormat('')).call(clean);
  svg.append('g').attr('transform','translate(0,'+yTop+')').call(d3.axisTop(x).tickValues(xMinor).tickSize(-13).tickFormat('')).call(clean);
  svg.append('g').attr('transform','translate('+p.left+',0)').call(d3.axisLeft(y).tickValues(yMajor).tickSize(-25).tickFormat('')).call(clean);
  svg.append('g').attr('transform','translate('+p.left+',0)').call(d3.axisLeft(y).tickValues(yMinor).tickSize(-10).tickFormat('')).call(clean);
  svg.append('g').attr('transform','translate('+p.right+',0)').call(d3.axisRight(y).tickValues(yMajor).tickSize(-25).tickFormat('')).call(clean);
  svg.append('g').attr('transform','translate('+p.right+',0)').call(d3.axisRight(y).tickValues(yMinor).tickSize(-10).tickFormat('')).call(clean);
  svg.append('rect').attr('x',p.left).attr('y',yTop).attr('width',p.right-p.left).attr('height',yBot-yTop)
    .style('fill','none').style('stroke','#000').style('stroke-width',3);

  // tick labels
  svg.selectAll('.xl'+i).data(xMajor).enter().append('text')
    .attr('x',function(d){return x(d);}).attr('y',yBot+64).attr('text-anchor','middle')
    .style('font-size','42px').text(function(d,j){return xTickLabels[j];});
  var yl=svg.selectAll('.yl'+i).data(yMajor).enter().append('text')
    .attr('x',p.left-16).attr('y',function(d,j){return y(d)+[0,20,30][j];}).attr('text-anchor','end')
    .style('font-size','42px');
  yl.append('tspan').text('10');
  yl.append('tspan').attr('dy',-20).style('font-size','28px').text(function(d,j){return yTickExp[j];});

  // axis titles
  var xg=svg.append('g');
  var xw=richText(xg,[{s:'λ  (',size:42},{s:'μ',size:42,it:true},{s:'m)',size:42}]);
  xg.attr('transform','translate('+((p.left+p.right)/2-xw/2)+',1048)');
  var yg=svg.append('g');
  var yw=richText(yg,[{s:'ν',size:42,it:true,gap:2},{s:'L',size:42},{s:'ν',size:28,dy:9,it:true,gap:2},{s:'(L',size:42},{s:'⊙',size:28,dy:9},{s:')',size:42}]);
  yg.attr('transform','translate('+(p.left-124)+','+((yTop+yBot)/2)+') rotate(-90) translate('+(-yw/2)+',0)');

  svg.append('text').attr('x',p.nx).attr('y',843).style('font-size','47px').style('fill',p.color).text(p.name);

  // title over the top axis
  var tg=svg.append('g');
  var bg=tg.append('rect').style('fill','#fff');
  var t=tg.append('text').attr('x',p.tx).attr('y',80).style('fill',p.tcolor)
    .style('font-family','Lato, sans-serif').style('font-weight','400').style('font-size','90px');
  t.append('tspan').text('T');
  t.append('tspan').attr('dy',8).style('font-size','54px').text('dust');
  t.append('tspan').attr('dy',-8).text(p.tsuf);
  var bb=t.node().getBBox();
  bg.attr('x',bb.x-14).attr('y',0).attr('width',bb.width+30).attr('height',94);
});
</script>
</body></html>
